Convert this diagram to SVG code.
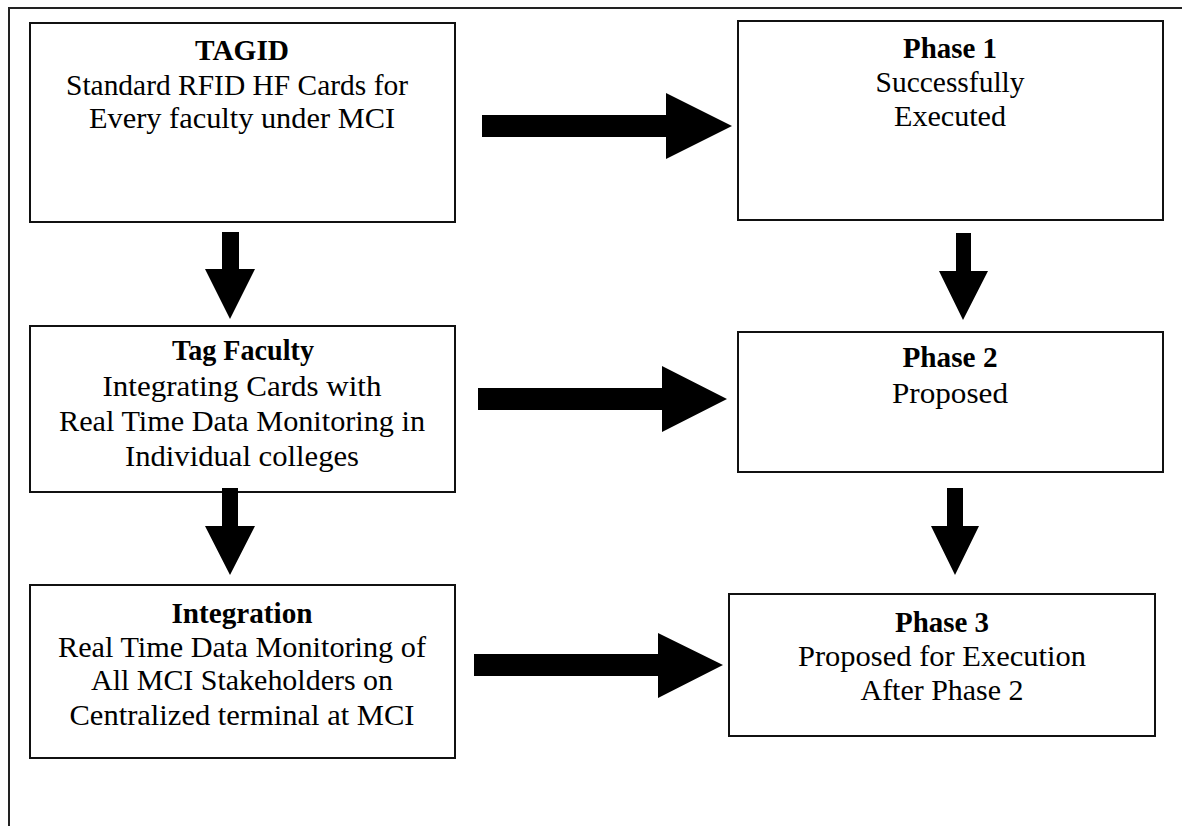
<svg xmlns="http://www.w3.org/2000/svg" width="1182" height="826" viewBox="0 0 1182 826">
<style>
.box{fill:#fff;stroke:#111;stroke-width:2}
.t{font-family:"Liberation Serif","Times New Roman",serif;font-size:30px;fill:#000;text-anchor:middle}
.b{font-weight:bold}
.arr{fill:#000}
.frame{stroke:#222;stroke-width:2;fill:none}
</style>
<rect width="1182" height="826" fill="#fff"/>
<path class="frame" d="M9,826 V8 H1182"/>
<g id="tagid">
<rect class="box" x="30" y="23" width="425" height="199"/>
<text class="t b" x="242" y="60" textLength="94" lengthAdjust="spacingAndGlyphs">TAGID</text>
<text class="t" x="237" y="95" textLength="342" lengthAdjust="spacingAndGlyphs">Standard RFID HF Cards for</text>
<text class="t" x="242" y="128" textLength="306" lengthAdjust="spacingAndGlyphs">Every faculty under MCI</text>
</g>
<g id="phase1">
<rect class="box" x="738" y="21" width="425" height="199"/>
<text class="t b" x="950" y="58" textLength="94" lengthAdjust="spacingAndGlyphs">Phase 1</text>
<text class="t" x="950" y="92" textLength="149" lengthAdjust="spacingAndGlyphs">Successfully</text>
<text class="t" x="950" y="126" textLength="112" lengthAdjust="spacingAndGlyphs">Executed</text>
</g>
<g id="tagfaculty">
<rect class="box" x="30" y="326" width="425" height="166"/>
<text class="t b" x="243" y="360" textLength="142" lengthAdjust="spacingAndGlyphs">Tag Faculty</text>
<text class="t" x="242" y="396" textLength="279" lengthAdjust="spacingAndGlyphs">Integrating Cards with</text>
<text class="t" x="242" y="431" textLength="366" lengthAdjust="spacingAndGlyphs">Real Time Data Monitoring in</text>
<text class="t" x="242" y="466" textLength="234" lengthAdjust="spacingAndGlyphs">Individual colleges</text>
</g>
<g id="phase2">
<rect class="box" x="738" y="332" width="425" height="140"/>
<text class="t b" x="950" y="367" textLength="95" lengthAdjust="spacingAndGlyphs">Phase 2</text>
<text class="t" x="950" y="403" textLength="116" lengthAdjust="spacingAndGlyphs">Proposed</text>
</g>
<g id="integration">
<rect class="box" x="30" y="585" width="425" height="173"/>
<text class="t b" x="242" y="623" textLength="141" lengthAdjust="spacingAndGlyphs">Integration</text>
<text class="t" x="242" y="657" textLength="368" lengthAdjust="spacingAndGlyphs">Real Time Data Monitoring of</text>
<text class="t" x="242" y="690" textLength="302" lengthAdjust="spacingAndGlyphs">All MCI Stakeholders on</text>
<text class="t" x="242" y="725" textLength="345" lengthAdjust="spacingAndGlyphs">Centralized terminal at MCI</text>
</g>
<g id="phase3">
<rect class="box" x="729" y="594" width="426" height="142"/>
<text class="t b" x="942" y="632" textLength="94" lengthAdjust="spacingAndGlyphs">Phase 3</text>
<text class="t" x="942" y="666" textLength="288" lengthAdjust="spacingAndGlyphs">Proposed for Execution</text>
<text class="t" x="942" y="700" textLength="163" lengthAdjust="spacingAndGlyphs">After Phase 2</text>
</g>
<g id="connectors">
<polygon class="arr" points="482,115 666,115 666,93 732,126 666,159 666,137 482,137"/>
<polygon class="arr" points="478,388 662,388 662,366 727,399 662,432 662,410 478,410"/>
<polygon class="arr" points="474,654 658,654 658,633 723,665 658,698 658,676 474,676"/>
<polygon class="arr" points="222,232 239,232 239,269 255,269 230,319 205,269 222,269"/>
<polygon class="arr" points="222,488 238,488 238,526 255,526 230,575 205,526 222,526"/>
<polygon class="arr" points="956,233 971,233 971,271 988,271 963,320 939,271 956,271"/>
<polygon class="arr" points="947,488 963,488 963,526 979,526 955,575 931,526 947,526"/>
</g>
</svg>
